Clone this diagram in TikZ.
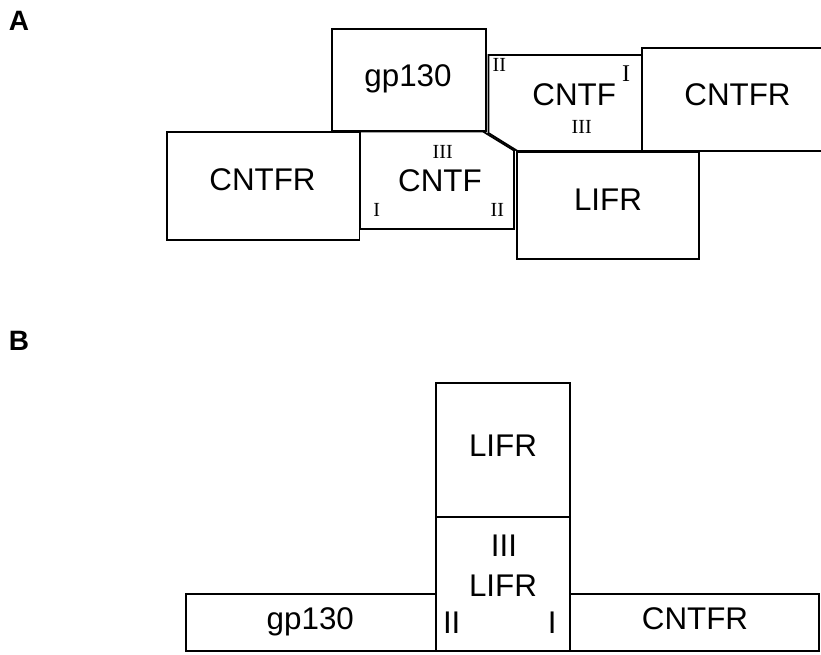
\documentclass[tikz,border=0pt]{standalone}
\usepackage{fontspec}
\setmainfont{Liberation Serif}
\setsansfont{Liberation Sans}
\usepackage{tikz}
\usetikzlibrary{positioning}
\tikzset{
  box/.style={line width=1.3pt, black},
  lbl/.style={font=\sffamily\fontsize{23.5}{23.5}\selectfont, anchor=base, inner sep=0pt},
  dom/.style={font=\rmfamily\fontsize{15}{15}\selectfont, anchor=base, inner sep=0pt},
  panel/.style={font=\sffamily\bfseries\fontsize{21}{21}\selectfont, anchor=base, inner sep=0pt}
}

\begin{document}
\begin{tikzpicture}[x=0.75pt, y=-0.75pt]
        \useasboundingbox (0,0) rectangle (821,654);
        % panel A
        \node[panel] (pA) at (19,30.5) {A};
        \draw[box] (331.7,29) rectangle (485.7,131);
        \node[lbl] (gpA) at (408,86.7) {gp130};
        \draw[box] (167.3,132.3) rectangle (359.5,240);
        \node[lbl] (rA1) at (262.5,190) {CNTFR};
        % lower CNTF, cut corner at top right
        \draw[box] (360,131.5) -- (483,131.5) -- (514,150.5) -- (514,229) -- (360,229) -- cycle;
        \node[lbl] (fA1) at (440,191.7) {CNTF};
        \node[dom] (fA1c) at (442.7,158.3) {III};
        \node[dom] (fA1a) at (376.7,216.7) {I};
        \node[dom] (fA1b) at (497.3,216.7) {II};
        % upper CNTF, cut corner at bottom left
        \draw[box] (488.5,55) -- (642,55) -- (642,151) -- (517.5,151) -- (488.5,133) -- cycle;
        \node[lbl] (fA2) at (574.2,105.7) {CNTF};
        \node[dom] (fA2b) at (499.3,71.7) {II};
        \node[dom, font=\rmfamily\fontsize{18}{18}\selectfont] (fA2a) at (626,81) {I};
        \node[dom] (fA2c) at (581.7,133.3) {III};
        \draw[box] (821,48) -- (642,48) -- (642,151) -- (821,151);
        \node[lbl] (rA2) at (737.5,105) {CNTFR};
        \draw[box] (517,152.3) rectangle (699,259);
        \node[lbl] (lA) at (608,210) {LIFR};
        % panel B
        \node[panel] (pB) at (19,350) {B};
        \draw[box] (436,383) rectangle (570,517.3);
        \node[lbl] (lB1) at (503,456) {LIFR};
        \draw[box] (436,517.3) rectangle (570,651);
        \node[lbl] (lB2c) at (504,556.7) {III};
        \node[lbl] (lB2) at (503,596.7) {LIFR};
        \node[lbl] (lB2b) at (451.7,633.3) {II};
        \node[lbl] (lB2a) at (552.3,633.3) {I};
        \draw[box] (185.7,594) rectangle (436,651);
        \node[lbl] (gpB) at (310.3,629.3) {gp130};
        \draw[box] (570,594) rectangle (819,651);
        \node[lbl] (rB) at (695,629.3) {CNTFR};
      \end{tikzpicture}
\end{document}
